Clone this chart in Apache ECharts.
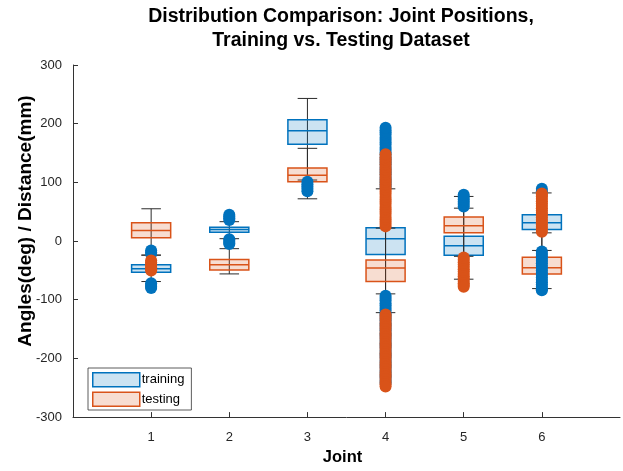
<!DOCTYPE html>
<html><head><meta charset="utf-8">
<script src="https://cdn.jsdelivr.net/npm/echarts@6/dist/echarts.min.js"></script>
<style>html,body{margin:0;padding:0;background:#fff}#c{width:623px;height:471px}</style>
</head><body><div id="c"></div>
<script>
const joints = [1, 2, 3, 4, 5, 6];
const xTickLabels = ['1', '2', '3', '4', '5', '6'];
const yTicks = [-300, -200, -100, 0, 100, 200, 300];
// [lowerWhisker, Q1, median, Q3, upperWhisker]
const trainingStats = [
  [-69, -53, -47, -40.5, -24],
  [4, 15, 19.5, 23.5, 33],
  [104, 165, 188, 206.5, 243],
  [-90, -23, 4, 22.5, 89],
  [-65, -24, -8, 8, 56],
  [-16, 19.5, 31, 45, 82]
];
const testingStats = [
  [-24, 5.5, 18, 31, 55],
  [-56, -49.5, -40.5, -31.5, -13],
  [72, 101, 112, 124.5, 158],
  [-122, -69, -46, -32.5, 22],
  [-26, 14, 26, 41, 76],
  [-81, -56, -45.5, -27.5, 14]
];
const trainingOutliers = [
  [-16, -19, -22, -72, -75, -78, -80],
  [36, 39, 42, 45, 3, 0, -3, -5],
  [101, 97, 93, 89, 85],
  [92, 96, 100, 104, 108, 113, 117, 121, 125, 130, 134, 138, 142, 147, 151, 155, 159, 164, 168, 172, 176, 181, 185, 189, 193,
   -93, -97, -101, -106, -110, -114, -118, -123, -127, -131, -135, -140, -144, -148, -152, -157, -161, -165, -170, -174, -178,
   -182, -187, -191, -195, -199, -204, -208, -212, -216, -221, -225, -229, -233, -238, -242],
  [59, 63, 67, 71, 75, 79],
  [85, 89, -18, -22, -26, -30, -34, -38, -42, -46, -50, -54, -58, -62, -66, -70, -74, -78, -82, -84]
];
const testingOutliers = [
  [-33, -36, -39, -42, -45, -48, -50],
  [],
  [],
  [25, 29, 33, 37, 41, 46, 50, 54, 58, 63, 67, 71, 75, 80, 84, 88, 92, 97, 101, 105, 109, 114, 118, 122, 126, 131, 135, 139, 143, 148,
   -125, -129, -133, -138, -142, -146, -150, -155, -159, -163, -167, -172, -176, -180, -184, -189, -193, -197, -201, -206, -210,
   -214, -218, -223, -227, -231, -235, -240, -244, -248],
  [-28, -32, -36, -40, -44, -48, -52, -56, -60, -64, -68, -72, -75, -78],
  [16, 20, 24, 28, 32, 36, 40, 44, 48, 52, 56, 60, 64, 68, 72, 76, 79, 81]
];

const BLUE = '#0072BD', ORANGE = '#D95319';
const BLUE_FILL = 'rgba(0,114,189,0.2)', ORANGE_FILL = 'rgba(217,83,25,0.2)';
const WHISKER = '#2b2b2b';
const FONT = 'Liberation Sans, Arial, sans-serif';

function boxRenderer(stroke, fill) {
  return function (params, api) {
    const x = api.value(0);
    const lo = api.coord([x, api.value(1)]);
    const q1 = api.coord([x, api.value(2)]);
    const med = api.coord([x, api.value(3)]);
    const q3 = api.coord([x, api.value(4)]);
    const hi = api.coord([x, api.value(5)]);
    const bw = api.size([0.5, 0])[0];
    const cw = api.size([0.25, 0])[0];
    const cx = lo[0];
    return {
      type: 'group',
      children: [
        { type: 'line', shape: { x1: cx, y1: lo[1], x2: cx, y2: hi[1] }, style: { stroke: WHISKER, lineWidth: 1 } },
        { type: 'line', shape: { x1: cx - cw / 2, y1: lo[1], x2: cx + cw / 2, y2: lo[1] }, style: { stroke: WHISKER, lineWidth: 1 } },
        { type: 'line', shape: { x1: cx - cw / 2, y1: hi[1], x2: cx + cw / 2, y2: hi[1] }, style: { stroke: WHISKER, lineWidth: 1 } },
        { type: 'rect', shape: { x: cx - bw / 2, y: q3[1], width: bw, height: q1[1] - q3[1] }, style: { fill: fill, stroke: stroke, lineWidth: 1.5 } },
        { type: 'line', shape: { x1: cx - bw / 2, y1: med[1], x2: cx + bw / 2, y2: med[1] }, style: { stroke: stroke, lineWidth: 1.5 } }
      ]
    };
  };
}

function boxData(stats) { return joints.map((j, i) => [j].concat(stats[i])); }
function outlierData(outs) {
  const res = [];
  joints.forEach((j, i) => outs[i].forEach(v => res.push([j, v])));
  return res;
}

const chart = echarts.init(document.getElementById('c'), null, { renderer: 'canvas' });
chart.setOption({
  animation: false,
  backgroundColor: '#fff',
  title: {
    text: 'Distribution Comparison: Joint Positions,\nTraining vs. Testing Dataset',
    left: 336, top: 0, textAlign: 'center',
    textStyle: { fontFamily: FONT, fontSize: 19.5, fontWeight: 'bold', color: '#000', lineHeight: 24 }
  },
  grid: { left: 73, right: 3, top: 65, bottom: 53, containLabel: false },
  legend: {
    orient: 'vertical', left: 88, top: 368, selectedMode: false,
    itemWidth: 47, itemHeight: 14, itemGap: 4,
    padding: [4, 7, 3, 4],
    borderColor: '#333', borderWidth: 0.8, backgroundColor: '#fff',
    textStyle: { fontFamily: FONT, fontSize: 13, color: '#000', padding: [0, 0, 0, -3] },
    data: [
      { name: 'training', icon: 'rect', itemStyle: { color: BLUE_FILL, borderColor: BLUE, borderWidth: 1.5 } },
      { name: 'testing', icon: 'rect', itemStyle: { color: ORANGE_FILL, borderColor: ORANGE, borderWidth: 1.5 } }
    ]
  },
  xAxis: {
    type: 'value', min: 0, max: 7, interval: 1,
    name: 'Joint', nameLocation: 'middle', nameGap: 30,
    nameTextStyle: { fontFamily: FONT, fontSize: 16.5, fontWeight: 'bold', color: '#000', padding: [0, 8, 0, 0] },
    axisLine: { show: true, onZero: false, lineStyle: { color: '#333', width: 1 } },
    axisTick: { show: true, inside: true, length: 5, customValues: joints, lineStyle: { color: '#333' } },
    axisLabel: { customValues: joints, formatter: v => xTickLabels[joints.indexOf(v)] || '', margin: 14,
      fontFamily: FONT, fontSize: 13, color: '#262626' },
    splitLine: { show: false }
  },
  yAxis: {
    type: 'value', min: yTicks[0], max: yTicks[yTicks.length - 1], interval: 100,
    axisLine: { show: true, onZero: false, lineStyle: { color: '#333', width: 1 } },
    axisTick: { show: true, inside: true, length: 5, lineStyle: { color: '#333' } },
    axisLabel: { margin: 11, fontFamily: FONT, fontSize: 13, color: '#262626' },
    splitLine: { show: false }
  },
  graphic: [{
    type: 'text', x: 26, y: 221, rotation: Math.PI / 2,
    style: { text: 'Angles(deg) / Distance(mm)', fontFamily: FONT, fontSize: 19, fontWeight: 'bold',
      fill: '#000', align: 'center', verticalAlign: 'middle' }
  }],
  series: [
    { name: 'training', type: 'custom', renderItem: boxRenderer(BLUE, BLUE_FILL), itemStyle: { color: BLUE_FILL, borderColor: BLUE },
      encode: { x: 0, y: [1, 2, 3, 4, 5] }, data: boxData(trainingStats), z: 2 },
    { name: 'training', type: 'scatter', symbol: 'circle', symbolSize: 12, itemStyle: { color: BLUE, opacity: 1 },
      data: outlierData(trainingOutliers), z: 2 },
    { name: 'testing', type: 'custom', renderItem: boxRenderer(ORANGE, ORANGE_FILL), itemStyle: { color: ORANGE_FILL, borderColor: ORANGE },
      encode: { x: 0, y: [1, 2, 3, 4, 5] }, data: boxData(testingStats), z: 2 },
    { name: 'testing', type: 'scatter', symbol: 'circle', symbolSize: 12, itemStyle: { color: ORANGE, opacity: 1 },
      data: outlierData(testingOutliers), z: 2 }
  ]
});
</script>
</body></html>
